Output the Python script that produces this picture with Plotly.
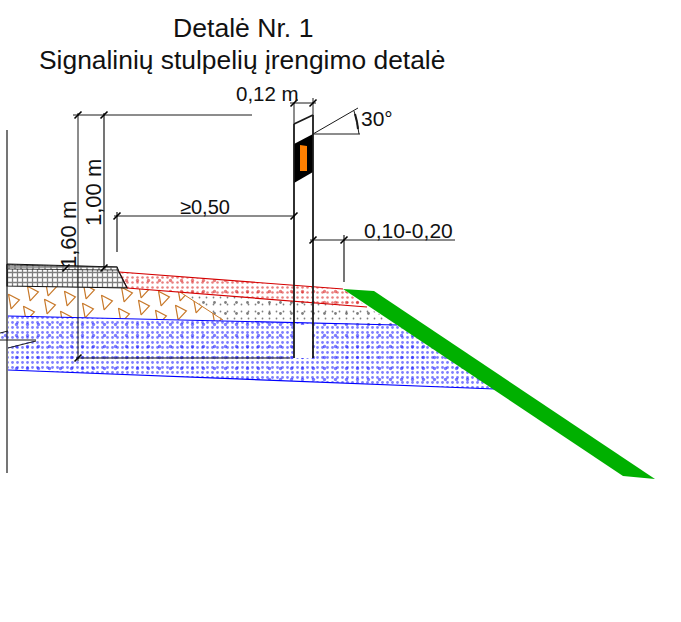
import plotly.graph_objects as go

FONT = "Liberation Sans"
RED = "#d40000"
BLUE = "#0000ff"
ORANGE = "#c8792a"
DARK = "#1a1a1a"

# --- ground layers, outlines (pixel units of the drawing) ---
asphalt_x = [7, 117, 119, 127, 7, 7]
asphalt_y = [264, 267, 272, 288, 286, 264]
asphalt_top_x = [7, 117, 118, 7, 7]
asphalt_top_y = [265, 267, 270, 269, 265]
red_x = [119, 343, 367, 127, 119]
red_y = [272, 289, 307, 288, 272]
gravel_x = [180, 367, 397, 223, 180]
gravel_y = [292, 307, 325, 320, 292]
blue_x = [0, 8, 8, 397, 495, 8, 8, 36, 0, 0]
blue_y = [333, 331, 316, 325, 389, 370, 347, 340, 340, 333]
green_x = [343, 374, 655, 623, 343]
green_y = [289, 291, 479, 476, 289]

# --- triangles of the aggregate layer ---
tri_x = [32, 13, 69, 49, 106, 87, 126, 143, 163, 180, 123, 28, 198, 182, 217, 160, 65, 50, 88, 143]
tri_y = [293, 301, 298, 306, 302, 310, 294, 307, 298, 312, 315, 313, 305, 293, 318, 317, 318, 288, 291, 290]

# --- post ---
post_left_x = [294, 294]
post_left_y = [124, 358]
post_right_x = [313, 313]
post_right_y = [115, 358]
post_top_x = [294, 313]
post_top_y = [124, 115]
band_x = [294, 313, 313, 294, 294]
band_y = [144, 134, 172, 183, 144]
reflector_x = [300, 307, 307, 300, 300]
reflector_y = [145, 146, 171, 171, 145]
post_gap_x = [295, 312, 312, 295, 295]
post_gap_y = [325, 325, 358, 358, 325]

# --- dimension lines as (x0, y0, x1, y1, width) ---
dim_lines = [
    (7, 130, 7, 473, 1.2),
    (78, 113, 78, 361, 1),
    (104, 113, 104, 268, 1.2),
    (73, 115, 252, 115, 1),
    (76, 358, 290, 358, 1.2),
    (117, 212, 117, 252, 1.2),
    (114, 216, 294, 216, 1),
    (290, 103, 316, 103, 1),
    (294, 103, 294, 124, 1),
    (313, 98, 313, 115, 1),
    (310, 240, 455, 240, 1),
    (344, 235, 344, 282, 1.2),
    (313, 134, 358, 108, 1),
    (313, 134, 360, 134, 1),
    (0, 340, 36, 340, 1),
    (36, 341, 8, 348, 1),
    (0, 333, 8, 331, 1),
]
tick_x = [78, 104, 78, 104, 117, 294, 294, 313, 313, 344, 66]
tick_y = [115, 115, 358, 268, 216, 216, 103, 103, 240, 240, 268]
arc_x = [354, 357, 359]
arc_y = [111, 122, 134]
arc_tick_x = [355, 358]
arc_tick_y = [114, 129]

# --- texts ---
labels = ["Detalė Nr. 1", "Signalinių stulpelių įrengimo detalė", "0,12 m", "30°",
          "≥0,50", "0,10-0,20", "1,60 m", "1,00 m"]
label_x = [243, 241.5, 267, 377, 205, 408, 68, 93]
label_y = [28, 60, 93, 118, 207, 230, 235, 193]
label_size = [26.6, 26.4, 20.5, 21, 20, 21, 22, 22]
label_angle = [0, 0, 0, 0, 0, 0, -90, -90]

fig = go.Figure()

def area(x, y, color=None, pattern=None, line=None, width=1):
    fig.add_trace(go.Scatter(
        x=x, y=y, mode="lines", fill="toself",
        fillcolor=color or "rgba(0,0,0,0)",
        fillpattern=pattern,
        line=dict(color=line or "rgba(0,0,0,0)", width=width),
        hoverinfo="skip", showlegend=False))

def stroke(x, y, color=DARK, width=1):
    fig.add_trace(go.Scatter(x=x, y=y, mode="lines", line=dict(color=color, width=width),
                             hoverinfo="skip", showlegend=False))

# triangles first, layers drawn afterwards clip them
fig.add_trace(go.Scatter(x=tri_x, y=tri_y, mode="markers",
                         marker=dict(symbol="triangle-right-open", size=13, angle=-10,
                                     color=ORANGE, line=dict(width=1.2, color=ORANGE)),
                         hoverinfo="skip", showlegend=False))

area(gravel_x, gravel_y, pattern=dict(shape=".", fgcolor="#000000", bgcolor="white", size=11, solidity=0.05))
area(gravel_x, gravel_y, pattern=dict(shape=".", fgcolor="#000000", bgcolor="rgba(0,0,0,0)", size=7, solidity=0.05))
stroke([180, 223], [292, 320], ORANGE, 1)
area(blue_x, blue_y, pattern=dict(shape=".", fgcolor=BLUE, bgcolor="white", size=5, solidity=0.24))
area(blue_x, blue_y, pattern=dict(shape=".", fgcolor=BLUE, bgcolor="rgba(0,0,0,0)", size=11, solidity=0.07))
stroke([8, 397], [316, 325], BLUE, 1.2)
stroke([8, 495], [370, 389], BLUE, 1.2)
area(red_x, red_y, pattern=dict(shape=".", fgcolor=RED, bgcolor="white", size=5, solidity=0.2))
area(red_x, red_y, pattern=dict(shape=".", fgcolor=RED, bgcolor="rgba(0,0,0,0)", size=11, solidity=0.07))
stroke([119, 343], [272, 289], RED, 1.2)
stroke([127, 367], [288, 307], RED, 1.2)
stroke([119, 127], [272, 288], RED, 1.2)
area(asphalt_x, asphalt_y, pattern=dict(shape="+", fgcolor="#000000", bgcolor="white", size=5, solidity=0.45),
     line="#111111", width=1.2)
area(asphalt_top_x, asphalt_top_y, pattern=dict(shape="+", fgcolor="#000000", bgcolor="white", size=6, solidity=0.4),
     line="#111111", width=0.8)
area(green_x, green_y, color="#00b000")

area(post_gap_x, post_gap_y, color="white")
area(band_x, band_y, color="black")
area(reflector_x, reflector_y, color="#ff7f00")
stroke(post_left_x, post_left_y, DARK, 1.8)
stroke(post_right_x, post_right_y, DARK, 1.8)
stroke(post_top_x, post_top_y, DARK, 1.8)

for x0, y0, x1, y1, w in dim_lines:
    stroke([x0, x1], [y0, y1], DARK, w)
stroke(arc_x, arc_y, DARK, 1)
stroke(arc_tick_x[:1] + arc_x[1:2], arc_tick_y[:1] + arc_y[1:2], DARK, 2)
stroke(arc_x[1:2] + arc_tick_x[1:], arc_y[1:2] + arc_tick_y[1:], DARK, 2)
fig.add_trace(go.Scatter(x=tick_x, y=tick_y, mode="markers",
                         marker=dict(symbol="line-ne", size=7, line=dict(width=1.6, color="black")),
                         hoverinfo="skip", showlegend=False))

for text, x, y, size, ang in zip(labels, label_x, label_y, label_size, label_angle):
    fig.add_annotation(x=x, y=y, text=text, showarrow=False, textangle=ang,
                       font=dict(family=FONT, size=size, color="#111111"),
                       xanchor="center", yanchor="middle")

fig.update_layout(
    width=681, height=622, margin=dict(l=0, r=0, t=0, b=0),
    plot_bgcolor="white", paper_bgcolor="white", showlegend=False,
    xaxis=dict(range=[0, 681], visible=False, fixedrange=True),
    yaxis=dict(range=[622, 0], visible=False, fixedrange=True),
)
fig.write_html("out.html", config={"displayModeBar": False},
               post_script="document.body.style.margin='0';")
